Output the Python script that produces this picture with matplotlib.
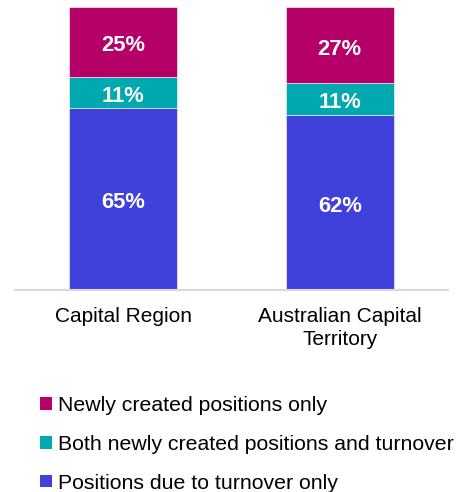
import matplotlib
matplotlib.use("Agg")
import matplotlib.pyplot as plt
from matplotlib.patches import Patch
import numpy as np

plt.rcParams['font.family'] = ['Liberation Sans', 'DejaVu Sans']

categories = ["Capital Region", "Australian Capital\nTerritory"]
series_names = ["Positions due to turnover only",
                "Both newly created positions and turnover",
                "Newly created positions only"]
turnover_only = [65, 62]
both = [11, 11]
newly_only = [25, 27]
colors = ["#4040DA", "#00A8B0", "#B5006A"]

values = np.array([turnover_only, both, newly_only], dtype=float)
totals = values.sum(axis=0)
shares = values / totals * 100

fig = plt.figure(figsize=(4.61, 4.92), dpi=100)
ax = fig.add_axes([15/461, 202/492, 433/461, 283/492])
x = np.arange(len(categories))
bottom = np.zeros(len(categories))
for i in range(3):
    ax.bar(x, shares[i], bottom=bottom, width=0.5, color=colors[i],
           edgecolor='white', linewidth=0.4)
    for j in range(len(categories)):
        ax.annotate(f"{int(values[i][j])}%", (x[j], bottom[j] + shares[i][j] / 2),
                    xytext=(0, -1), textcoords='offset points',
                    ha='center', va='center_baseline', color='white',
                    fontsize=15.8, fontweight='bold')
    bottom += shares[i]

ax.set_xlim(-0.5, 1.5)
ax.set_ylim(0, 100)
for s in ['top', 'right', 'left']:
    ax.spines[s].set_visible(False)
ax.spines['bottom'].set_color('#d9d9d9')
ax.spines['bottom'].set_linewidth(1.5)
ax.set_yticks([])
ax.set_xticks(x)
ax.set_xticklabels(categories, fontsize=15, linespacing=1.3)
ax.tick_params(axis='x', length=0, pad=12)

handles = [Patch(facecolor=colors[i]) for i in [2, 1, 0]]
labels = [series_names[i] for i in [2, 1, 0]]
fig.legend(handles, labels, loc='upper left', bbox_to_anchor=(40/461, 1 - 396/492),
           frameon=False, fontsize=15.3, handlelength=0.55, handleheight=0.55,
           handletextpad=0.3, labelspacing=0.93, borderpad=0, borderaxespad=0)

fig.savefig("out.png", dpi=100)
